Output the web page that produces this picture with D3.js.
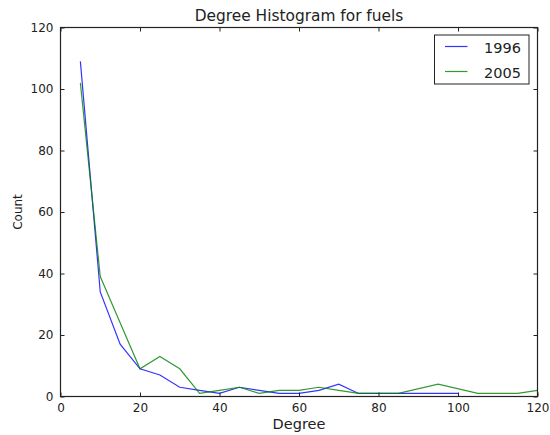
<!DOCTYPE html>
<html>
<head>
<meta charset="utf-8">
<script src="https://cdn.jsdelivr.net/npm/d3@7"></script>
<style>
  body { margin: 0; background: #fff; }
  svg { font-family: 'DejaVu Sans', sans-serif; }
</style>
</head>
<body>
<svg width="550" height="435"></svg>
<script>
const degrees1996 = [5, 10, 15, 20, 25, 30, 35, 40, 45, 50, 55, 60, 65, 70, 75, 80, 85, 90, 95, 100];
const counts1996  = [109, 34, 17, 9, 7, 3, 2, 1, 3, 2, 1, 1, 2, 4, 1, 1, 1, 1, 1, 1];
const degrees2005 = [5, 10, 15, 20, 25, 30, 35, 40, 45, 50, 55, 60, 65, 70, 75, 80, 85, 95, 105, 110, 115, 120];
const counts2005  = [102, 39, 24, 9, 13, 9, 1, 2, 3, 1, 2, 2, 3, 2, 1, 1, 1, 4, 1, 1, 1, 2];
const xTicks = [0, 20, 40, 60, 80, 100, 120];
const yTicks = [0, 20, 40, 60, 80, 100, 120];
const seriesNames = ['1996', '2005'];
const colors = ['#0000ff', '#008000'];

const [width, height] = [550, 435];
const margin = {top: 27.5, right: 12.5, bottom: 38.5, left: 60.5};

const x = d3.scaleLinear()
  .domain([0, 120])
  .range([margin.left, width - margin.right]);

const y = d3.scaleLinear()
  .domain([0, 120])
  .range([height - margin.bottom, margin.top]);

const svg = d3.select(document.querySelector('svg'));

const series = [
  degrees1996.map((d, i) => ({x: d, y: counts1996[i]})),
  degrees2005.map((d, i) => ({x: d, y: counts2005[i]})),
];

const line = d3.line()
  .x(d => x(d.x))
  .y(d => y(d.y));

svg.append('defs').append('clipPath')
  .attr('id', 'plot')
  .append('rect')
  .attr('x', x(0)).attr('y', y(120))
  .attr('width', x(120) - x(0)).attr('height', y(0) - y(120));

svg.append('g')
  .attr('clip-path', 'url(#plot)')
  .selectAll('path')
  .data(series)
  .join('path')
  .attr('fill', 'none')
  .attr('stroke', (d, i) => colors[i])
  .attr('stroke-width', 1.2)
  .attr('stroke-opacity', 0.8)
  .attr('d', line);

// axes, ticks pointing inward on all four sides
const tick = 4;
const xb = svg.append('g').attr('transform', `translate(0,${y(0)})`)
  .call(d3.axisBottom(x).tickValues(xTicks).tickSizeInner(-tick).tickSizeOuter(0).tickPadding(7));
const xt = svg.append('g').attr('transform', `translate(0,${y(120)})`)
  .call(d3.axisTop(x).tickValues(xTicks).tickSizeInner(-tick).tickSizeOuter(0).tickFormat(''));
const yl = svg.append('g').attr('transform', `translate(${x(0)},0)`)
  .call(d3.axisLeft(y).tickValues(yTicks).tickSizeInner(-tick).tickSizeOuter(0).tickPadding(7));
const yr = svg.append('g').attr('transform', `translate(${x(120)},0)`)
  .call(d3.axisRight(y).tickValues(yTicks).tickSizeInner(-tick).tickSizeOuter(0).tickFormat(''));

[xb, xt, yl, yr].forEach(g => {
  g.select('.domain').remove();
  g.selectAll('line').attr('stroke', '#222');
  g.selectAll('text').attr('font-size', 12).attr('fill', '#222').attr('font-family', 'DejaVu Sans, sans-serif');
});

svg.append('rect')
  .attr('x', x(0)).attr('y', y(120))
  .attr('width', x(120) - x(0)).attr('height', y(0) - y(120))
  .attr('fill', 'none')
  .attr('stroke', '#222')
  .attr('stroke-width', 1.2);

svg.append('text')
  .attr('x', (x(0) + x(120)) / 2)
  .attr('y', 21)
  .attr('text-anchor', 'middle')
  .attr('font-size', 15.4)
  .attr('fill', '#222')
  .text('Degree Histogram for fuels');

svg.append('text')
  .attr('x', (x(0) + x(120)) / 2)
  .attr('y', 429)
  .attr('text-anchor', 'middle')
  .attr('font-size', 14.5)
  .attr('fill', '#222')
  .text('Degree');

svg.append('text')
  .attr('transform', `translate(22,${(y(0) + y(120)) / 2}) rotate(-90)`)
  .attr('text-anchor', 'middle')
  .attr('font-size', 12)
  .attr('fill', '#222')
  .text('Count');

// legend
const lg = svg.append('g').attr('transform', 'translate(434.5,35)');
lg.append('rect')
  .attr('width', 94.5).attr('height', 49)
  .attr('fill', '#fff')
  .attr('stroke', '#222')
  .attr('stroke-width', 1);
seriesNames.forEach((name, i) => {
  const ly = 11.5 + i * 25;
  lg.append('line')
    .attr('x1', 10.5).attr('x2', 33)
    .attr('y1', ly).attr('y2', ly)
    .attr('stroke', colors[i])
    .attr('stroke-opacity', 0.8)
    .attr('stroke-width', 1.2);
  lg.append('text')
    .attr('x', 86.5).attr('y', ly + 6)
    .attr('text-anchor', 'end')
    .attr('font-size', 14.5)
    .attr('fill', '#222')
    .text(name);
});
</script>
</body>
</html>
